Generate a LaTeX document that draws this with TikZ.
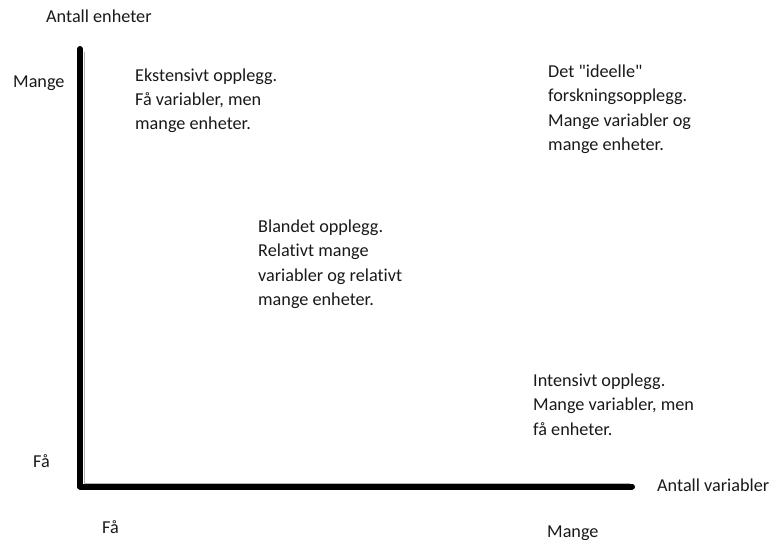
\documentclass[tikz,border=0pt]{standalone}
\usepackage{fontspec}
\setmainfont{Carlito}[Ligatures={TeXOff,NoCommon}]
\begin{document}
\begin{tikzpicture}[x=1pt,y=-1pt,
  lbl/.style={anchor=base west,inner sep=0pt,align=left,
    font=\fontsize{18.2}{24.4}\selectfont,text=black!90},
  axis/.style={line width=6pt,line cap=round,line join=round},
  shade/.style={line width=0.8pt,black!30}]
\useasboundingbox (0,0) rectangle (770,539);
% axes
\coordinate (top) at (80,49);
\coordinate (origin) at (80,486.5);
\coordinate (right) at (632,486.5);
\draw[shade] (84,52) -- (84,483) -- (630,483);
\draw[axis] (top) -- (origin) -- (right);
% axis titles and ends
\node[lbl] (ytitle) at (46,22) {Antall enheter};
\node[lbl] (xtitle) at (657,491) {Antall variabler};
\node[lbl] (ymany) at (13,87) {Mange};
\node[lbl] (yfew) at (33,467) {Få};
\node[lbl] (xfew) at (102,533) {Få};
\node[lbl] (xmany) at (547,537) {Mange};
% research designs (anchored at the baseline of the last line)
\node[lbl] (ext) at (135,129.8) {Ekstensivt opplegg.\\Få variabler, men\\mange enheter.};
\node[lbl] (ideal) at (548,150.5) {Det "ideelle"\\forskningsopplegg.\\Mange variabler og\\mange enheter.};
\node[lbl] (mixed) at (258,305.5) {Blandet opplegg.\\Relativt mange\\variabler og relativt\\mange enheter.};
\node[lbl] (int) at (533,435) {Intensivt opplegg.\\Mange variabler, men\\få enheter.};
\end{tikzpicture}
\end{document}
